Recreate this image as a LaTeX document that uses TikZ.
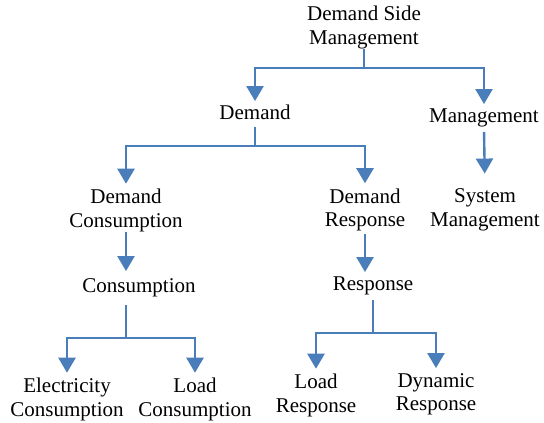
\documentclass[tikz,border=0pt]{standalone}
\usepackage{fontspec}
\setmainfont{Liberation Serif}
\usetikzlibrary{arrows.meta}
\definecolor{dsmblue}{RGB}{74,126,187}
\tikzset{
 item/.style={align=center,inner sep=0pt,font=\fontsize{21}{23.5}\selectfont,
  execute at begin node=\strut,execute at end node=\strut},
 flow/.style={draw=dsmblue,line width=2.4pt,shorten >=2pt,
  -{Triangle[width=17pt,length=15pt]}}
}
\begin{document}
\begin{tikzpicture}[x=1pt,y=1pt]
 \useasboundingbox (0,0) rectangle (544,-423);
 % levels of the tree
 \node[item] (root) at (364,-28.5) {Demand Side\\Management};
 \node[item] (dem) at (255,-115) {Demand};
 \node[item] (mgmt) at (484,-118) {Management};
 \node[item] (dcons) at (126,-211.5) {Demand\\Consumption};
 \node[item] (dresp) at (365,-211) {Demand\\Response};
 \node[item] (sysm) at (485,-211) {System\\Management};
 \node[item] (cons) at (139,-288) {Consumption};
 \node[item] (resp) at (373,-286) {Response};
 \node[item] (elec) at (67,-400.5) {Electricity\\Consumption};
 \node[item] (loadc) at (195,-400.5) {Load\\Consumption};
 \node[item] (loadr) at (316,-396.5) {Load\\Response};
 \node[item] (dynr) at (436,-395.5) {Dynamic\\Response};
 % connectors
 \draw[flow,shorten <=-2pt] (root.south) -- ++(0,-17) -| (dem.north);
 \draw[flow,shorten <=-2pt] (root.south) -- ++(0,-17) -| (mgmt.north);
 \draw[flow,shorten >=5pt] (dem.south) -- ++(0,-19) -| (dcons.north);
 \draw[flow,shorten >=5pt] (dem.south) -- ++(0,-19) -| (dresp.north);
 \draw[flow,shorten <=2pt,shorten >=15pt] (mgmt.south) -- (sysm.north);
 \draw[flow,shorten <=-2pt,shorten >=5pt] (dcons.south) -- (dcons.south |- cons.north);
 \draw[flow,shorten >=2pt] (dresp.south) -- (dresp.south |- resp.north);
 \draw[flow,shorten <=5pt,shorten >=5pt] (dcons.south |- cons.south) -- ++(0,-38) -| (elec.north);
 \draw[flow,shorten <=5pt,shorten >=5pt] (dcons.south |- cons.south) -- ++(0,-38) -| (loadc.north);
 \draw[flow,shorten <=2pt,shorten >=5pt] (resp.south) -- ++(0,-35) -| (loadr.north);
 \draw[flow,shorten <=2pt,shorten >=5pt] (resp.south) -- ++(0,-35) -| (dynr.north);
\end{tikzpicture}
\end{document}
